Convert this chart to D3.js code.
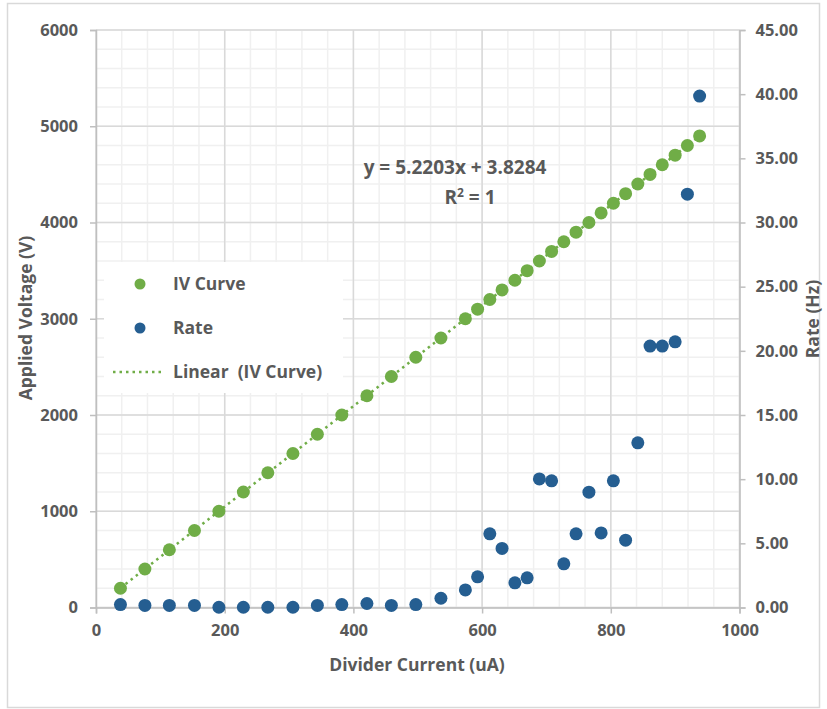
<!DOCTYPE html>
<html>
<head>
<meta charset="utf-8">
<script src="https://cdn.jsdelivr.net/npm/d3@7"></script>
<style>
  html, body { margin: 0; padding: 0; background: #fff; }
  svg { display: block; }
  text { font-family: "Open Sans", "Noto Sans", sans-serif; font-weight: 700; fill: #595959; }
</style>
</head>
<body>
<svg id="chart" width="827" height="709"></svg>
<script>
// Divider current (uA) for each measurement step
const current = [38, 76, 114, 153, 191, 229, 267, 306, 344, 382, 421, 459, 497,
  536, 574, 593, 612, 631, 651, 670, 689, 708, 727, 746, 766, 785, 804, 823,
  842, 861, 880, 900, 919, 938];
// Applied voltage (V) — IV curve, primary axis
const voltage = [200, 400, 600, 800, 1000, 1200, 1400, 1600, 1800, 2000, 2200,
  2400, 2600, 2800, 3000, 3100, 3200, 3300, 3400, 3500, 3600, 3700, 3800, 3900,
  4000, 4100, 4200, 4300, 4400, 4500, 4600, 4700, 4800, 4900];
// Count rate (Hz) — secondary axis
const rate = [0.23, 0.16, 0.16, 0.16, 0.02, 0.02, 0.02, 0.02, 0.16, 0.23, 0.31,
  0.16, 0.23, 0.72, 1.37, 2.39, 5.74, 4.60, 1.92, 2.31, 10.02, 9.87, 3.40, 5.74,
  8.99, 5.81, 9.87, 5.25, 12.83, 20.37, 20.37, 20.70, 32.21, 39.85];
// Linear fit of the IV curve
const fitSlope = 5.2203;
const fitIntercept = 3.8284;
const fitLabel = "y = 5.2203x + 3.8284";

const xTicks = [0, 200, 400, 600, 800, 1000];
const yLeftTicks = [0, 1000, 2000, 3000, 4000, 5000, 6000];
const yRightTicks = [0, 5, 10, 15, 20, 25, 30, 35, 40, 45];

const GREEN = "#70AD47", BLUE = "#255E91";

const svg = d3.select("#chart");

// chart frame
svg.append("rect").attr("x", 7.5).attr("y", 3.5).attr("width", 812).attr("height", 704)
  .attr("fill", "#fff").attr("stroke", "#d9d9d9").attr("stroke-width", 1.5);

const x = d3.scaleLinear().domain([0, 1000]).range([96, 739.5]);
const yL = d3.scaleLinear().domain([0, 6000]).range([607.5, 30]);
const yR = d3.scaleLinear().domain([0, 45]).range([607.5, 30]);

const grid = svg.append("g");
// minor grid
grid.selectAll(".mx").data(d3.range(0, 1001, 40)).join("line")
  .attr("x1", d => x(d)).attr("x2", d => x(d)).attr("y1", yL(0)).attr("y2", yL(6000))
  .attr("stroke", "#f0f0f0").attr("stroke-width", 1.5);
grid.selectAll(".my").data(d3.range(0, 6001, 200)).join("line")
  .attr("y1", d => yL(d)).attr("y2", d => yL(d)).attr("x1", x(0)).attr("x2", x(1000))
  .attr("stroke", "#f0f0f0").attr("stroke-width", 1.5);
// major grid
grid.selectAll(".Mx").data(xTicks).join("line")
  .attr("x1", d => x(d)).attr("x2", d => x(d)).attr("y1", yL(0)).attr("y2", yL(6000))
  .attr("stroke", "#d9d9d9").attr("stroke-width", 1.5);
grid.selectAll(".My").data(yLeftTicks).join("line")
  .attr("y1", d => yL(d)).attr("y2", d => yL(d)).attr("x1", x(0)).attr("x2", x(1000))
  .attr("stroke", "#d9d9d9").attr("stroke-width", 1.5);

// axes
function styleAxis(g) {
  g.select(".domain").attr("stroke", "#bfbfbf").attr("stroke-width", 1.5);
  g.selectAll(".tick line").attr("stroke", "#bfbfbf").attr("stroke-width", 1.5);
  g.selectAll(".tick text").attr("fill", "#595959")
    .style("font-family", "'Open Sans', sans-serif").style("font-weight", 700)
    .style("font-size", "16.5px");
}
svg.append("g").attr("transform", `translate(0,${yL(0)})`)
  .call(d3.axisBottom(x).tickValues(xTicks).tickFormat(d3.format("d"))
    .tickSizeOuter(0).tickSize(6).tickPadding(11))
  .call(styleAxis);
svg.append("g").attr("transform", `translate(${x(0)},0)`)
  .call(d3.axisLeft(yL).tickValues(yLeftTicks).tickFormat(d3.format("d"))
    .tickSizeOuter(0).tickSize(6).tickPadding(12))
  .call(styleAxis);
svg.append("g").attr("transform", `translate(${x(1000)},0)`)
  .call(d3.axisRight(yR).tickValues(yRightTicks).tickFormat(d3.format(".2f"))
    .tickSizeOuter(0).tickSize(6).tickPadding(10))
  .call(styleAxis);

// trendline
const xExt = d3.extent(current);
svg.append("line")
  .attr("x1", x(xExt[0])).attr("y1", yL(fitSlope * xExt[0] + fitIntercept))
  .attr("x2", x(xExt[1])).attr("y2", yL(fitSlope * xExt[1] + fitIntercept))
  .attr("stroke", GREEN).attr("stroke-width", 2.5).attr("stroke-dasharray", "2.5,4");

// IV curve points
svg.append("g").selectAll("circle").data(current).join("circle")
  .attr("cx", d => x(d)).attr("cy", (d, i) => yL(voltage[i])).attr("r", 6.5).attr("fill", GREEN);
// rate points
svg.append("g").selectAll("circle").data(current).join("circle")
  .attr("cx", d => x(d)).attr("cy", (d, i) => yR(rate[i])).attr("r", 6.5).attr("fill", BLUE);

// fit annotation
svg.append("text").attr("x", 455).attr("y", 174).attr("text-anchor", "middle")
  .style("font-size", "19px").text(fitLabel);
const r2 = svg.append("text").attr("x", 470).attr("y", 204).attr("text-anchor", "middle")
  .style("font-size", "19px");
r2.append("tspan").text("R");
r2.append("tspan").attr("dy", -7).style("font-size", "12px").text("2");
r2.append("tspan").attr("dy", 7).text(" = 1");

// legend
const lg = svg.append("g");
lg.append("rect").attr("x", 104).attr("y", 262).attr("width", 239).attr("height", 131).attr("fill", "#fff");
const legendItems = [
  { label: "IV Curve", type: "dot", color: GREEN, y: 284 },
  { label: "Rate", type: "dot", color: BLUE, y: 328 },
  { label: "Linear  (IV Curve)", type: "line", color: GREEN, y: 372 }
];
legendItems.forEach(it => {
  if (it.type === "dot") {
    lg.append("circle").attr("cx", 140).attr("cy", it.y).attr("r", 5.5).attr("fill", it.color);
  } else {
    lg.append("line").attr("x1", 113).attr("x2", 165).attr("y1", it.y).attr("y2", it.y)
      .attr("stroke", it.color).attr("stroke-width", 2.5).attr("stroke-dasharray", "2.5,4");
  }
  lg.append("text").attr("x", 173).attr("y", it.y).attr("dy", "0.35em")
    .style("font-size", "17.5px").style("white-space", "pre").text(it.label);
});

// axis titles
svg.append("text").attr("x", 417).attr("y", 671).attr("text-anchor", "middle")
  .style("font-size", "17.5px").text("Divider Current (uA)");
svg.append("text").attr("transform", "translate(32,318) rotate(-90)").attr("text-anchor", "middle")
  .style("font-size", "17.5px").text("Applied Voltage (V)");
svg.append("text").attr("transform", "translate(819,319) rotate(-90)").attr("text-anchor", "middle")
  .style("font-size", "17.5px").text("Rate (Hz)");
</script>
</body>
</html>
